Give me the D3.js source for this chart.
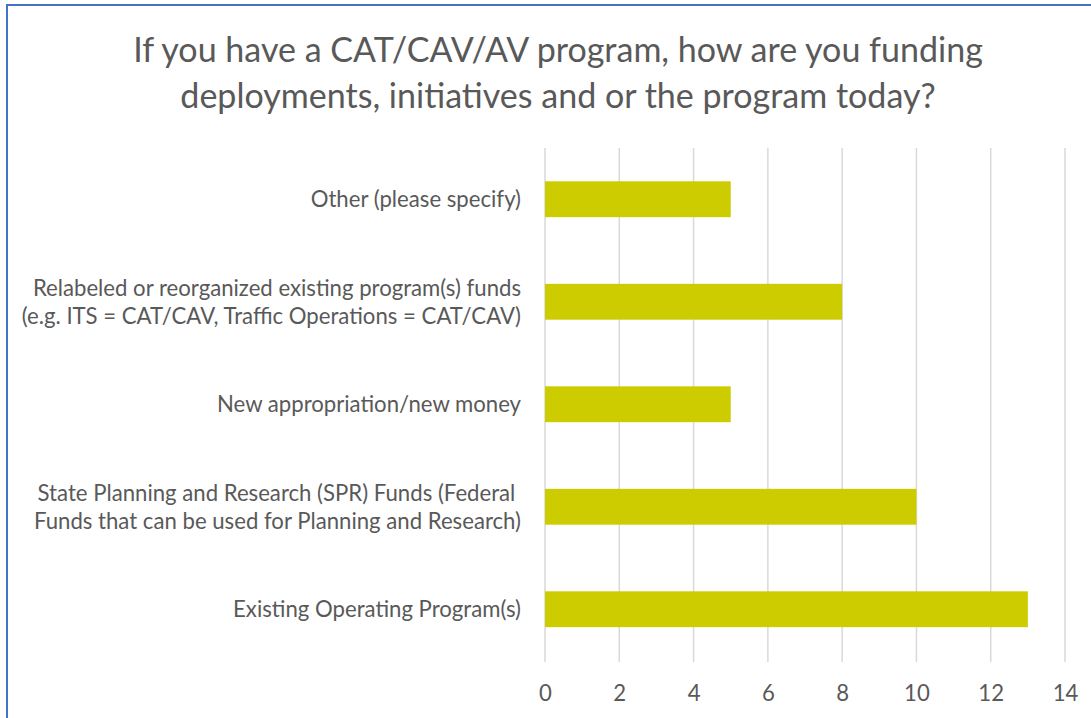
<!DOCTYPE html>
<html>
<head>
<meta charset="utf-8">
<script src="https://cdn.jsdelivr.net/npm/d3@7"></script>
<style>
  html, body { margin: 0; padding: 0; background: #fff; }
  svg { display: block; }
</style>
</head>
<body>
<svg id="chart" width="1091" height="718"></svg>
<script>
const titleLines = ["If you have a CAT/CAV/AV program, how are you funding", "deployments, initiatives and or the program today?"];
const categories = [
  "Other (please specify)",
  "Relabeled or reorganized existing program(s) funds|(e.g. ITS = CAT/CAV, Traffic Operations = CAT/CAV)",
  "New appropriation/new money",
  "State Planning and Research (SPR) Funds (Federal |Funds that can be used for Planning and Research)",
  "Existing Operating Program(s)"
];
const values = [5, 8, 5, 10, 13];
const xTicks = [0, 2, 4, 6, 8, 10, 12, 14];

const FONT = "Lato, 'Open Sans', sans-serif";
const TEXT = "#595959";
const svg = d3.select("#chart");

// frame
svg.append("line").attr("x1", 7).attr("x2", 1091).attr("y1", 5).attr("y2", 5)
  .attr("stroke", "#4472C4").attr("stroke-width", 2);
svg.append("line").attr("x1", 7).attr("x2", 7).attr("y1", 4).attr("y2", 718)
  .attr("stroke", "#4472C4").attr("stroke-width", 2);

function fitSize(text, size, target) {
  const t = svg.append("text").attr("font-family", FONT).attr("font-size", size).text(text);
  const w = t.node().getComputedTextLength();
  t.remove();
  return size * target / w;
}

// title
const titleSize = fitSize(titleLines[0], 28, 850);
const titleY = [62, 108];
titleLines.forEach((t, i) => {
  svg.append("text").attr("x", 558).attr("y", titleY[i])
    .attr("text-anchor", "middle").attr("font-family", FONT).attr("font-size", titleSize)
    .attr("fill", TEXT).text(t);
});

const x = d3.scaleLinear().domain([0, 14]).range([545, 1065]);
const y = d3.scaleBand().domain(categories).range([148, 660.5]).paddingInner(0.65).paddingOuter(0.325);

// gridlines
svg.append("g").selectAll("line").data(xTicks).join("line")
  .attr("x1", d => x(d)).attr("x2", d => x(d))
  .attr("y1", 148).attr("y2", 662)
  .attr("stroke", "#D9D9D9").attr("stroke-width", 1.5);

// bars
svg.append("g").selectAll("rect").data(values).join("rect")
  .attr("x", x(0)).attr("y", (d, i) => y(categories[i]))
  .attr("width", d => x(d) - x(0)).attr("height", y.bandwidth())
  .attr("fill", "#CCCC00");

const labelSize = fitSize("Existing Operating Program(s)", 18, 288);

// x axis
const xAxis = svg.append("g").attr("transform", "translate(0,662)")
  .call(d3.axisBottom(x).tickValues(xTicks).tickSize(0).tickPadding(23));
xAxis.select(".domain").remove();
xAxis.selectAll("text").attr("font-family", FONT).attr("font-size", labelSize).attr("fill", TEXT);

// category labels
const lineGap = 28;
categories.forEach((c, i) => {
  const lines = c.split("|");
  const cy = y(c) + y.bandwidth() / 2;
  lines.forEach((ln, j) => {
    const off = (j - (lines.length - 1) / 2) * lineGap;
    svg.append("text").attr("x", 521).attr("y", cy + off).attr("dy", "0.35em")
      .attr("text-anchor", "end").attr("font-family", FONT).attr("font-size", labelSize)
      .attr("fill", TEXT).attr("xml:space", "preserve").style("white-space", "pre").text(ln);
  });
});
</script>
</body>
</html>
